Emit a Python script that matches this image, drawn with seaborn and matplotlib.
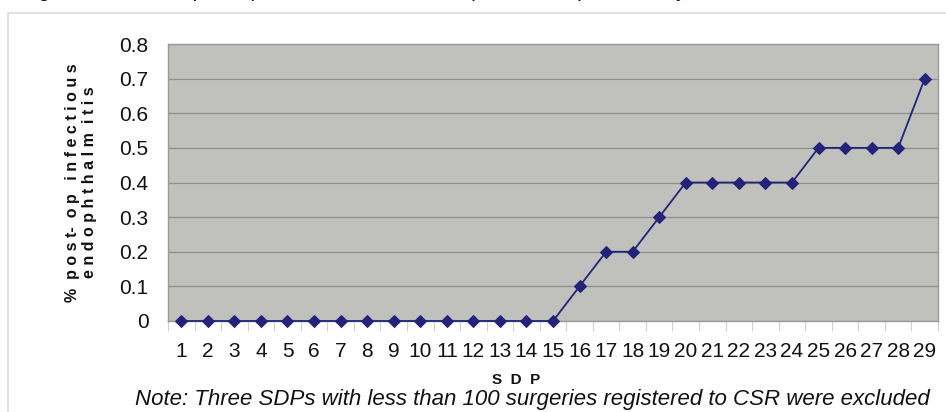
import matplotlib
matplotlib.use("Agg")
import matplotlib.pyplot as plt
import seaborn as sns
import pandas as pd
from matplotlib.patches import Rectangle

# SDP identifiers and their post-op infectious endophthalmitis rate (%)
sdp_labels = [str(i) for i in range(1, 30)]
rates = [0, 0, 0, 0, 0, 0, 0, 0, 0, 0, 0, 0, 0, 0, 0,
         0.1, 0.2, 0.2, 0.3, 0.4, 0.4, 0.4, 0.4, 0.4,
         0.5, 0.5, 0.5, 0.5, 0.7]
y_ticks = [0, 0.1, 0.2, 0.3, 0.4, 0.5, 0.6, 0.7, 0.8]

df = pd.DataFrame({"pos": range(len(sdp_labels)), "sdp": sdp_labels, "rate": rates})

sns.set_theme(style="white")
plt.rcParams["font.family"] = ["Liberation Sans", "DejaVu Sans"]

fig = plt.figure(figsize=(9.46, 4.12), dpi=100)

# outer frame of the chart object
fig.patches.append(Rectangle((8 / 946, -0.05), 1.0, 1 - 13 / 412 + 0.05,
                             transform=fig.transFigure, fill=False,
                             edgecolor="#dcdcdc", linewidth=1.2, zorder=0))

# caption line running off the top edge
fig.text(0.022, 1.0 + 3 / 412,
         "Figure 3. Rates of post-operative infectious endophthalmitis per SDP, by",
         ha="left", va="baseline", fontsize=15, color="#111111")

ax = fig.add_axes([168 / 946, (412 - 321) / 412, (938 - 168) / 946, (321 - 44) / 412])
ax.set_facecolor("#c0c0bd")

sns.lineplot(data=df, x="pos", y="rate", ax=ax, color="#23237a", linewidth=1.3,
             marker="D", markersize=6.5, markeredgecolor="#23237a", clip_on=False, zorder=5)

ax.set_xlim(-0.5, len(sdp_labels) - 0.5)
ax.set_ylim(0, 0.8)
ax.set_yticks(y_ticks)
ax.set_yticklabels([f"{v:g}" for v in y_ticks], fontsize=15, color="#111111")
ax.set_xticks(range(len(sdp_labels)))
ax.set_xticklabels(sdp_labels, fontsize=15, color="#111111")
ax.set_xticks([i + 0.5 for i in range(-1, len(sdp_labels))], minor=True)

ax.yaxis.grid(True, color="#8e8e8c", linewidth=0.9)
ax.set_axisbelow(True)
for s in ax.spines.values():
    s.set_color("#9a9a98")
    s.set_linewidth(1.0)

ax.tick_params(axis="y", which="major", length=8, color="#b5b5b5", width=0.9, pad=6)
ax.tick_params(axis="x", which="major", length=0, pad=15)
ax.tick_params(axis="x", which="minor", length=7, color="#d0d0d0", width=0.8, bottom=True)

ax.set_xlabel("")
ax.set_ylabel("%  p o s t-  o p   i n f e c t i o u s\ne n d o p h t h a l m  i t i s",
              fontsize=11.5, fontweight="bold", color="#111111", linespacing=1.2,
              labelpad=16)

fig.text(516 / 946, 1 - 380 / 412, "S  D  P", ha="center", va="center",
         fontsize=11, fontweight="bold", color="#111111")
fig.text(930 / 946, 1 - 399.5 / 412,
         "Note: Three SDPs with less than 100 surgeries registered to CSR were excluded",
         ha="right", va="center", fontsize=16, style="italic", color="#111111")

fig.savefig("out.png", dpi=100)
